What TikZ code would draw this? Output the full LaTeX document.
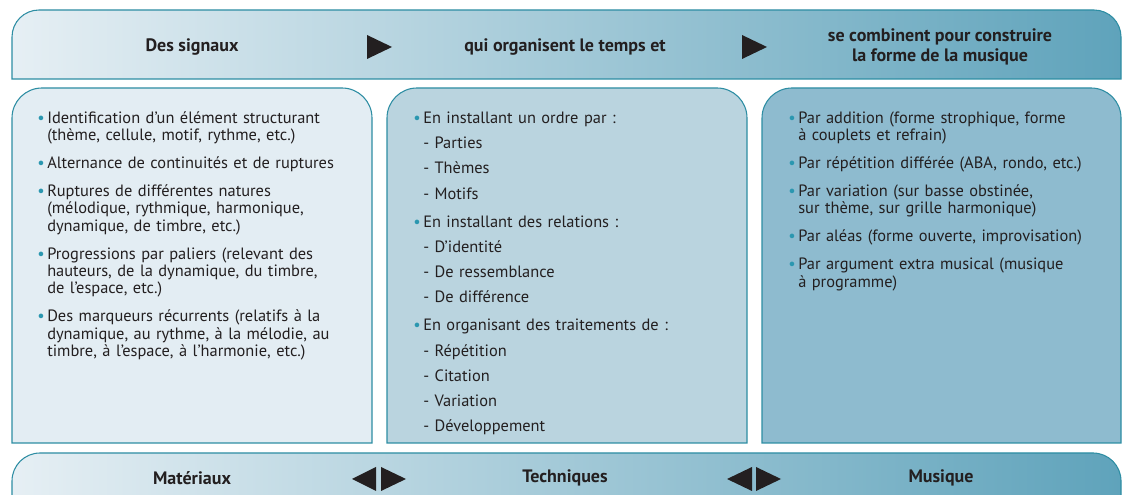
\documentclass[tikz,border=0pt]{standalone}
\usepackage{fontspec}
\setmainfont{PT Sans}
\usetikzlibrary{positioning}

\definecolor{bord}{HTML}{2D8DA3}
\definecolor{degradeA}{HTML}{E6EFF4}
\definecolor{degradeB}{HTML}{5FA3BB}
\definecolor{fondA}{HTML}{E3EDF3}
\definecolor{fondB}{HTML}{BAD4DF}
\definecolor{fondC}{HTML}{8EBBCF}
\definecolor{texte}{HTML}{231F20}
\definecolor{pucecol}{HTML}{2B97B0}

\newcommand{\puce}{\par\noindent\hangindent=7.5pt\hangafter=1\makebox[7.5pt][l]{\textcolor{pucecol}{\textbullet}}}
\newcommand{\tiret}{\par\noindent\hspace*{7.5pt}- }

\tikzset{
  cadre/.style={draw=bord, line width=0.8pt},
  titre/.style={font=\bfseries\fontsize{13.5}{14.5}\selectfont, text=texte, align=center, inner sep=0pt},
  corps/.style={anchor=north west, inner sep=0pt, text width=250pt, align=left, text=texte,
    font=\fontsize{12.3}{13}\selectfont\setlength{\parskip}{#1}},
}

\begin{document}
\begin{tikzpicture}[x=0.75pt, y=0.75pt]
    \useasboundingbox (0,0) rectangle (1127,495);
    \clip (0,0) rectangle (1127,495);
    % bandeau du haut
    \draw[cadre, left color=degradeA, right color=degradeB] (12,416) -- (12,458) arc[start angle=180, end angle=90, radius=27] -- (1094,485) arc[start angle=90, end angle=0, radius=27] -- (1121,416) -- cycle;
    % les trois colonnes
    \draw[cadre, fill=fondA] (12,52) -- (12,377) arc[start angle=180, end angle=90, radius=30] -- (342,407) arc[start angle=90, end angle=0, radius=30] -- (372,52) -- cycle;
    \draw[cadre, fill=fondB] (387,52) -- (387,377) arc[start angle=180, end angle=90, radius=30] -- (717,407) arc[start angle=90, end angle=0, radius=30] -- (747,52) -- cycle;
    \draw[cadre, fill=fondC] (762,52) -- (762,377) arc[start angle=180, end angle=90, radius=30] -- (1091,407) arc[start angle=90, end angle=0, radius=30] -- (1121,52) -- cycle;
    % bandeau du bas
    \draw[cadre, left color=degradeA, right color=degradeB] (12,-20) -- (12,14) arc[start angle=180, end angle=90, radius=28] -- (1093,42) arc[start angle=90, end angle=0, radius=28] -- (1121,-20) -- cycle;

    \node[titre] (signaux) at (192,448) {Des signaux};
    \node[titre] (temps) at (565,448) {qui organisent le temps et};
    \node[titre] (forme) at (940,448) {se combinent pour construire\\la forme de la musique};
    \fill[texte] (367,460) -- (392,448) -- (367,436) -- cycle;
    \fill[texte] (742,460) -- (767,448) -- (742,436) -- cycle;

    \node[corps=8pt] (listeA) at (37,400) {\puce Identification d’un élément structurant\newline(thème, cellule, motif, rythme, etc.)
      \puce Alternance de continuités et de ruptures
      \puce Ruptures de différentes natures\newline(mélodique, rythmique, harmonique,\newline dynamique, de timbre, etc.)
      \puce Progressions par paliers (relevant des\newline hauteurs, de la dynamique, du timbre,\newline de l’espace, etc.)
      \puce Des marqueurs récurrents (relatifs à la\newline dynamique, au rythme, à la mélodie, au\newline timbre, à l’espace, à l’harmonie, etc.)\par};
    \node[corps=5.9pt] (listeB) at (413,397) {\puce En installant un ordre par :
      \tiret Parties \tiret Thèmes \tiret Motifs
      \vspace{2.2pt}\puce En installant des relations :
      \tiret D’identité \tiret De ressemblance \tiret De différence
      \vspace{2.2pt}\puce En organisant des traitements de :
      \tiret Répétition \tiret Citation \tiret Variation \tiret Développement\par};
    \node[corps=8pt] (listeC) at (788,400) {\puce Par addition (forme strophique, forme\newline à couplets et refrain)
      \puce Par répétition différée (ABA, rondo, etc.)
      \puce Par variation (sur basse obstinée,\newline sur thème, sur grille harmonique)
      \puce Par aléas (forme ouverte, improvisation)
      \puce Par argument extra musical (musique\newline à programme)\par};

    \node[titre] (materiaux) at (192,17) {Matériaux};
    \node[titre] (techniques) at (565,17) {Techniques};
    \node[titre] (musique) at (941,17) {Musique};
    \fill[texte] (376,28) -- (352,16) -- (376,4) -- cycle;
    \fill[texte] (381,28) -- (406,16) -- (381,4) -- cycle;
    \fill[texte] (752,28) -- (727,16) -- (752,4) -- cycle;
    \fill[texte] (756,28) -- (781,16) -- (756,4) -- cycle;
\end{tikzpicture}
\end{document}
